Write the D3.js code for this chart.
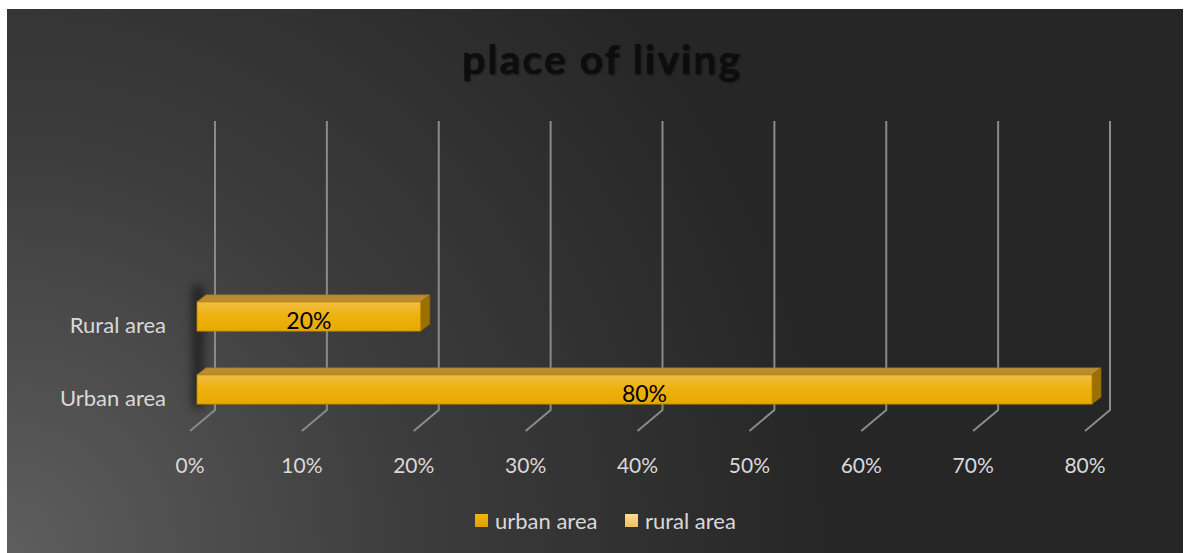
<!DOCTYPE html>
<html>
<head>
<meta charset="utf-8">
<script src="https://cdn.jsdelivr.net/npm/d3@7"></script>
<style>
  html, body { margin: 0; padding: 0; background: #fff; }
  svg { display: block; }
</style>
</head>
<body>
<div id="chart"></div>
<script>
const categories = ["Urban area", "Rural area"];
const values = [0.8, 0.2];
const ticks = [0, 0.1, 0.2, 0.3, 0.4, 0.5, 0.6, 0.7, 0.8];
const legendItems = ["urban area", "rural area"];
const legendColors = ["url(#legUrban)", "url(#legRural)"];

const W = 1189, H = 553;
const svg = d3.select("#chart").append("svg")
    .attr("width", W)
    .attr("height", H);

const defs = svg.append("defs");

const bg = defs.append("radialGradient").attr("id", "bg")
    .attr("gradientUnits", "userSpaceOnUse")
    .attr("cx", 7).attr("cy", 553).attr("r", 820);
bg.append("stop").attr("offset", "0").attr("stop-color", "#5e5e5e");
bg.append("stop").attr("offset", "0.5").attr("stop-color", "#3c3c3c");
bg.append("stop").attr("offset", "1").attr("stop-color", "#262626");

const front = defs.append("linearGradient").attr("id", "front")
    .attr("x1", 0).attr("y1", 0).attr("x2", 0).attr("y2", 1);
front.append("stop").attr("offset", "0").attr("stop-color", "#f2bd45");
front.append("stop").attr("offset", "0.45").attr("stop-color", "#eeb20f");
front.append("stop").attr("offset", "1").attr("stop-color", "#e7a900");

const lu = defs.append("linearGradient").attr("id", "legUrban")
    .attr("x1", 0).attr("y1", 0).attr("x2", 0).attr("y2", 1);
lu.append("stop").attr("offset", "0").attr("stop-color", "#f2b40a");
lu.append("stop").attr("offset", "1").attr("stop-color", "#e2a000");

const lr = defs.append("linearGradient").attr("id", "legRural")
    .attr("x1", 0).attr("y1", 0).attr("x2", 0).attr("y2", 1);
lr.append("stop").attr("offset", "0").attr("stop-color", "#fcdc90");
lr.append("stop").attr("offset", "1").attr("stop-color", "#f1c060");

defs.append("filter").attr("id", "blur")
    .attr("x", "-100%").attr("y", "-20%").attr("width", "300%").attr("height", "140%")
  .append("feGaussianBlur").attr("stdDeviation", 5);

const glow = defs.append("filter").attr("id", "glow")
    .attr("x", "-10%").attr("y", "-30%").attr("width", "120%").attr("height", "160%");
glow.append("feDropShadow").attr("dx", 1).attr("dy", 1)
    .attr("stdDeviation", 1.2).attr("flood-color", "#000").attr("flood-opacity", 0.6);

// chart background
svg.append("rect")
    .attr("x", 7).attr("y", 9)
    .attr("width", 1176).attr("height", H - 9)
    .attr("fill", "url(#bg)");

// title
svg.append("text")
    .attr("x", 601).attr("y", 74)
    .attr("text-anchor", "middle")
    .attr("textLength", 278)
    .attr("lengthAdjust", "spacing")
    .style("font-family", "Lato, 'Open Sans', sans-serif")
    .style("font-weight", "bold")
    .style("font-size", "41px")
    .attr("fill", "#0a0a0a")
    .attr("filter", "url(#glow)")
    .text("place of living");

// 3D geometry
const backX = 215, frontX = 190, barX0 = 197, barDX = 9, barDY = 7;
const gridTop = 121, gridBot = 410, gridFrontBot = 431;

const x = d3.scaleLinear().domain([0, 0.8]).range([0, 895]);
const y = d3.scaleBand().domain(categories).range([426, 280]);
const barH = y.bandwidth() * 0.4;
const fmt = d3.format(".0%");

// left wall shadow
svg.append("rect")
    .attr("x", 193).attr("y", 286)
    .attr("width", 10).attr("height", 122)
    .attr("fill", "#000").attr("opacity", 0.55)
    .attr("filter", "url(#blur)");

// gridlines: back vertical + floor diagonal
const grid = svg.append("g")
    .attr("stroke", "#8a8a8a")
    .attr("stroke-width", 2)
    .attr("fill", "none");
grid.selectAll("path")
  .data(ticks)
  .join("path")
    .attr("d", d => `M${backX + x(d)},${gridTop}V${gridBot}L${frontX + x(d)},${gridFrontBot}`);

// bars
const bars = svg.append("g").selectAll("g")
  .data(categories.map((c, i) => ({ c, v: values[i] })))
  .join("g");

bars.each(function(d) {
    const g = d3.select(this);
    const x0 = barX0, x1 = barX0 + x(d.v);
    const yc = y(d.c) + y.bandwidth() / 2;
    const yt = yc - barH / 2, yb = yc + barH / 2;
    // top face
    g.append("path")
        .attr("d", `M${x0},${yt}L${x0 + barDX},${yt - barDY}L${x1 + barDX},${yt - barDY}L${x1},${yt}Z`)
        .attr("fill", "#b98c30").attr("stroke", "#a87c20").attr("stroke-width", 0.8);
    // side face
    g.append("path")
        .attr("d", `M${x1},${yt}L${x1 + barDX},${yt - barDY}L${x1 + barDX},${yb - barDY}L${x1},${yb}Z`)
        .attr("fill", "#9a7100").attr("stroke", "#8a6400").attr("stroke-width", 0.8);
    // front face
    g.append("rect")
        .attr("x", x0).attr("y", yt)
        .attr("width", x1 - x0).attr("height", barH)
        .attr("fill", "url(#front)").attr("stroke", "#b88400").attr("stroke-width", 0.8);
    g.append("text")
        .attr("x", (x0 + x1) / 2).attr("y", yc + 12)
        .attr("text-anchor", "middle")
        .style("font-family", "Lato, sans-serif")
        .style("font-size", "23px")
        .attr("fill", "#000")
        .text(fmt(d.v));
});

// category labels
svg.append("g").selectAll("text")
  .data(categories)
  .join("text")
    .attr("x", 166)
    .attr("y", d => y(d) + y.bandwidth() / 2 + 16)
    .attr("text-anchor", "end")
    .style("font-family", "Lato, sans-serif")
    .style("font-size", "22px")
    .attr("fill", "#d9d9d9")
    .text(d => d);

// tick labels
svg.append("g").selectAll("text")
  .data(ticks)
  .join("text")
    .attr("x", d => frontX + x(d))
    .attr("y", 473)
    .attr("text-anchor", "middle")
    .style("font-family", "Lato, sans-serif")
    .style("font-size", "21px")
    .attr("fill", "#d9d9d9")
    .text(d => fmt(d));

// legend
const legend = svg.append("g").selectAll("g")
  .data(legendItems)
  .join("g")
    .attr("transform", (d, i) => `translate(${475 + i * 150},514)`);
legend.append("rect")
    .attr("width", 13).attr("height", 13)
    .attr("fill", (d, i) => legendColors[i]);
legend.append("text")
    .attr("x", 20).attr("y", 15)
    .style("font-family", "Lato, sans-serif")
    .style("font-size", "22px")
    .attr("fill", "#d9d9d9")
    .text(d => d);
</script>
</body>
</html>
